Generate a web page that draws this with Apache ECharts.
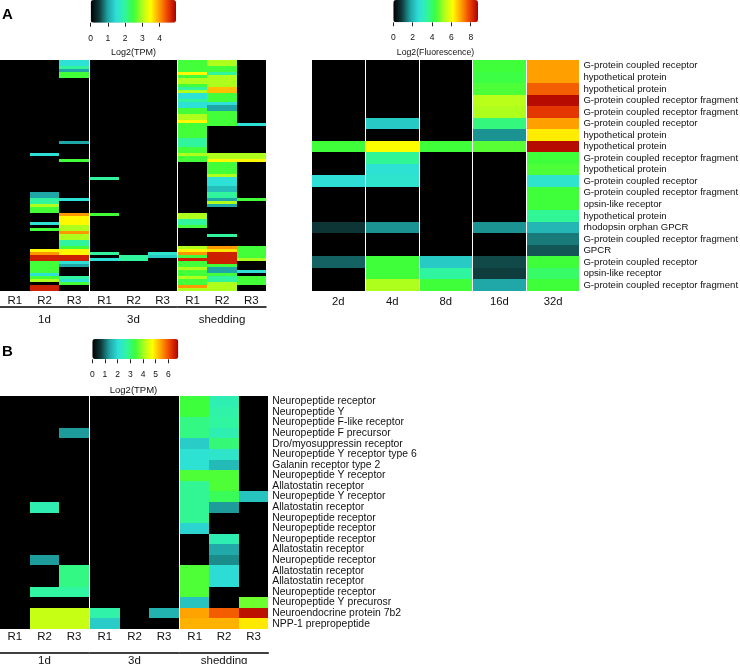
<!DOCTYPE html>
<html><head><meta charset="utf-8">
<script src="https://cdn.jsdelivr.net/npm/echarts@6/dist/echarts.min.js"></script>
<style>html,body{margin:0;padding:0;background:#fff}#c{width:740px;height:664px}</style>
</head><body><div id="c"></div>
<script>
const FONT = '"Liberation Sans", Arial, Helvetica, sans-serif';
const CMAP = ['#000000','#0f3a3a','#1fa5a5','#2ee0d8','#30f5a0','#3cff3c','#aaff1e','#ffff00','#ffa000','#ee4000','#aa0000'];

// ---------- Panel A (left): Log2(TPM) ----------
const repLabels = ['R1','R2','R3'];
const groupLabels = ['1d','3d','shedding'];
const aL_1d_R1 = [0,0,0,0,0,0,0,0,0,0, 0,0,0,0,0,0,0,0,0,0, 0,0,0,0,0,0,0,0,0,0, 0,0,0,0,0,0,0,0,0,0, 0,0,0,0,0,0,0,0,0,0, 0,0,0,0,0,0,0,0,0,0, 0,0,0,0,0,0,0,0,0,0, 0,0,0,0,0,0,0];
const aL_1d_R2 = [0,0,0,0,0,0,0,0,0,0, 0,0,0,0,0,0,0,0,0,0, 0,0,0,0,0,0,0,0,0,0, 0,1.5,0,0,0,0,0,0,0,0, 0,0,0,0,1,1,2,2,3,2.5, 2.5,0,0,0,1.5,0,2.5,0,0,0, 0,0,0,3.5,4,4.7,4.7,2.5,2.5,2.5, 2.5,1.5,2.5,3,0,4.7,4.7];
const aL_1d_R3 = [1.5,1.5,2,1,2.5,2.5,0,0,0,0, 0,0,0,0,0,0,0,0,0,0, 0,0,0,0,0,0,0,1,0,0, 0,0,0,2.5,0,0,0,0,0,0, 0,0,0,0,0,0,1.5,0,0,0, 0,4,3.5,3.5,3.5,3,3,4,3,3, 2,2,2.5,3.5,3.5,4.7,4.7,1.5,1,0, 0,0,2,1.5,2.5,0,0];
const aL_3d_R1 = [0,0,0,0,0,0,0,0,0,0, 0,0,0,0,0,0,0,0,0,0, 0,0,0,0,0,0,0,0,0,0, 0,0,0,0,0,0,0,0,0,2, 0,0,0,0,0,0,0,0,0,0, 0,2.5,0,0,0,0,0,0,0,0, 0,0,0,0,2,0,1.5,0,0,0, 0,0,0,0,0,0,0];
const aL_3d_R2 = [0,0,0,0,0,0,0,0,0,0, 0,0,0,0,0,0,0,0,0,0, 0,0,0,0,0,0,0,0,0,0, 0,0,0,0,0,0,0,0,0,0, 0,0,0,0,0,0,0,0,0,0, 0,0,0,0,0,0,0,0,0,0, 0,0,0,0,0,2,2,0,0,0, 0,0,0,0,0,0,0];
const aL_3d_R3 = [0,0,0,0,0,0,0,0,0,0, 0,0,0,0,0,0,0,0,0,0, 0,0,0,0,0,0,0,0,0,0, 0,0,0,0,0,0,0,0,0,0, 0,0,0,0,0,0,0,0,0,0, 0,0,0,0,0,0,0,0,0,0, 0,0,0,0,1.6,1.3,0,0,0,0, 0,0,0,0,0,0,0];
const aL_sh_R1 = [2.5,2.5,2.5,2.5,3.5,2.5,3,3,2.5,2, 3,1.5,1.5,2,1.5,1.5,2.5,2.5,3,3, 3.5,2.5,2.5,2.5,2.5,2.5,2,2,2,2.5, 2.5,3,2.5,2.5,0,0,0,0,0,0, 0,0,0,0,0,0,0,0,0,0, 0,3,3,2,2,2.5,0,0,0,0, 0,0,3,3.5,4,2.5,4.7,2.5,2.5,3, 2.5,2.5,3,2.5,2.5,4,3];
const aL_sh_R2 = [3,3,2.5,2.5,2,3,3,3,3,3.8, 3.8,2.5,2.5,2.5,1.5,1,1,2.5,2.5,2.5, 2.5,2.5,0,0,0,0,0,0,0,0, 0,3,3,3.5,2.5,2.5,2.5,2.5,3,1.5, 1.5,1.5,1.2,1.2,2,2,1,3,1,0, 0,0,0,0,0,0,0,0,2,0, 0,0,4,3.6,4.7,4.7,4.7,4.7,2.5,1, 1,2.5,2,2,3,3,3];
const aL_sh_R3 = [0,0,0,0,0,0,0,0,0,0, 0,0,0,0,0,0,0,0,0,0, 0,1.5,0,0,0,0,0,0,0,0, 0,3,3,3.5,0,0,0,0,0,0, 0,0,0,0,0,0,2.5,0,0,0, 0,0,0,0,0,0,0,0,0,0, 0,0,2.5,2.5,2.5,2.5,3,0,0,0, 1.5,0,2.5,2.5,2.5,0,0];
const aLeftMax = 4.95;
const aLeftTicks = [0,1,2,3,4];

// ---------- Panel A (right): Log2(Fluorescence) ----------
const aRightTimes = ['2d','4d','8d','16d','32d'];
const aRightGenes = ['G-protein coupled receptor','hypothetical protein','hypothetical protein','G-protein coupled receptor fragment','G-protein coupled receptor fragment','G-protein coupled receptor','hypothetical protein','hypothetical protein','G-protein coupled receptor fragment','hypothetical protein','G-protein coupled receptor','G-protein coupled receptor fragment','opsin-like receptor','hypothetical protein','rhodopsin orphan GPCR','G-protein coupled receptor fragment','GPCR','G-protein coupled receptor','opsin-like receptor','G-protein coupled receptor fragment'];
const aR_2d  = [0,0,0,0,0,0,0,4.4,0,0,2.6,0,0,0,0.8,0,0,1.2,0,0];
const aR_4d  = [0,0,0,0,0,2.3,0,6.1,3.6,2.7,2.8,0,0,0,1.6,0,0,4.4,4.4,5.3];
const aR_8d  = [0,0,0,0,0,0,0,4.4,0,0,0,0,0,0,0,0,0,2.3,3.5,4.4];
const aR_16d = [4.4,4.3,4.5,5.4,5.3,3.8,1.6,4.6,0,0,0,0,0,0,1.6,0,0,1.0,0.9,1.8];
const aR_32d = [7.0,7.0,7.6,8.6,8.0,7.0,6.3,8.6,4.4,4.5,2.8,4.4,4.4,3.6,2.0,1.4,1.1,4.4,4.0,4.4];
const aRightMax = 8.75;
const aRightTicks = [0,2,4,6,8];

// ---------- Panel B: Log2(TPM) ----------
const bGenes = ['Neuropeptide receptor','Neuropeptide Y','Neuropeptide F-like receptor','Neuropeptide F precursor','Dro/myosuppressin receptor','Neuropeptide Y receptor type 6','Galanin receptor type 2','Neuropeptide Y receptor','Allatostatin receptor','Neuropeptide Y receptor','Allatostatin receptor','Neuropeptide receptor','Neuropeptide receptor','Neuropeptide receptor','Allatostatin receptor','Neuropeptide receptor','Allatostatin receptor','Allatostatin receptor','Neuropeptide receptor','Neuropeptide Y precurosr','Neuroendocrine protein 7b2','NPP-1 prepropeptide'];
const b_1d_R1 = [0,0,0,0,0,0,0,0,0,0,0,0,0,0,0,0,0,0,0,0,0,0];
const b_1d_R2 = [0,0,0,0,0,0,0,0,0,0,2.5,0,0,0,0,1.3,0,0,2.7,0,4.3,4.3];
const b_1d_R3 = [0,0,0,1.3,0,0,0,0,0,0,0,0,0,0,0,0,2.9,2.9,2.7,0,4.3,4.3];
const b_3d_R1 = [0,0,0,0,0,0,0,0,0,0,0,0,0,0,0,0,0,0,0,0,2.6,1.8];
const b_3d_R2 = [0,0,0,0,0,0,0,0,0,0,0,0,0,0,0,0,0,0,0,0,0,0];
const b_3d_R3 = [0,0,0,0,0,0,0,0,0,0,0,0,0,0,0,0,0,0,0,0,1.5,0];
const b_sh_R1 = [3.4,3.4,2.9,2.9,1.8,2.1,2.1,3.5,2.8,2.8,2.8,2.8,1.9,0,0,0,3.5,3.5,3.5,1.7,5.4,5.3];
const b_sh_R2 = [2.5,2.6,2.7,2.5,3.0,2.2,1.6,3.5,3.5,3.2,1.3,0,0,2.5,1.4,1.2,2.0,2.0,0,0,5.9,5.3];
const b_sh_R3 = [0,0,0,0,0,0,0,0,0,1.7,0,0,0,0,0,0,0,0,0,3.7,6.6,4.9];
const bMax = 6.78;
const bTicks = [0,1,2,3,4,5,6];

// ---------- build ----------
const grids = [], xAxes = [], yAxes = [], series = [];
function renderCell(params, api) {
  const p = api.coord([api.value(0), api.value(1)]);
  const s = api.size([1, 1]);
  const x0 = Math.round(p[0] - s[0] / 2), x1 = Math.round(p[0] + s[0] / 2);
  const y0 = Math.round(p[1] - s[1] / 2), y1 = Math.round(p[1] + s[1] / 2);
  return {type: 'rect', shape: {x: x0, y: y0, width: x1 - x0, height: y1 - y0},
    style: {fill: api.visual('color')}};
}
function addHeat(box, xcats, rowcats, cols, o) {
  const gi = grids.length;
  grids.push({left: box.left, top: box.top, width: box.width, height: box.height, containLabel: false, outerBoundsMode: 'none'});
  const xi = xAxes.length;
  xAxes.push({type: 'category', gridIndex: gi, data: xcats, position: 'bottom',
    axisLine: {show: false}, axisTick: {show: false}, splitLine: {show: false},
    axisLabel: {fontFamily: FONT, fontSize: o.xSize, color: '#111', margin: o.xMargin, interval: 0}});
  if (o.group) {
    xAxes.push({type: 'category', gridIndex: gi, data: [o.group], position: 'bottom', offset: o.groupOffset,
      axisLine: {show: true, lineStyle: {color: '#000', width: 1.5}}, axisTick: {show: false}, splitLine: {show: false},
      axisLabel: {fontFamily: FONT, fontSize: o.xSize, color: '#111', margin: o.groupMargin}});
  }
  const yi = yAxes.length;
  yAxes.push({type: 'category', gridIndex: gi, data: rowcats, inverse: true, position: 'right',
    show: !!o.showY, axisLine: {show: false}, axisTick: {show: false}, splitLine: {show: false},
    axisLabel: {show: !!o.showY, fontFamily: FONT, fontSize: o.ySize || 10, color: '#111', margin: 4, interval: 0, align: 'left'}});
  const data = [];
  cols.forEach((col, c) => col.forEach((v, r) => data.push([c, r, v])));
  series.push({type: 'custom', xAxisIndex: xi, yAxisIndex: yi, data: data, encode: {x: 0, y: 1},
    renderItem: renderCell, silent: true, clip: false});
  return series.length - 1;
}
function addScale(box, max, ticks, size, margin) {
  const gi = grids.length;
  grids.push({left: box.left, top: box.top, width: box.width, height: 1, containLabel: false, outerBoundsMode: 'none'});
  xAxes.push({type: 'value', gridIndex: gi, min: 0, max: max,
    axisLine: {show: false}, splitLine: {show: false},
    axisTick: {show: true, length: 4, customValues: ticks, lineStyle: {color: '#222', width: 1}},
    axisLabel: {customValues: ticks, fontFamily: FONT, fontSize: size, color: '#111', margin: margin}});
  yAxes.push({type: 'value', gridIndex: gi, show: false});
}

const rowIdxA = aL_1d_R1.map((_, i) => String(i));
const aLeftCols = [[aL_1d_R1, aL_1d_R2, aL_1d_R3], [aL_3d_R1, aL_3d_R2, aL_3d_R3], [aL_sh_R1, aL_sh_R2, aL_sh_R3]];
const aLeftBoxes = [{left: 0, width: 89}, {left: 90, width: 87}, {left: 178, width: 88}];
const sA = [];
aLeftCols.forEach((cols, g) => {
  sA.push(addHeat({left: aLeftBoxes[g].left, width: aLeftBoxes[g].width, top: 60, height: 231}, repLabels, rowIdxA, cols,
    {xSize: 11.5, xMargin: 3.5, group: groupLabels[g], groupOffset: 15.7, groupMargin: 7}));
});

const aRightCols = [aR_2d, aR_4d, aR_8d, aR_16d, aR_32d];
const aRightLefts = [312, 366, 419.5, 473, 526.7];
const sR = [];
aRightCols.forEach((col, k) => {
  sR.push(addHeat({left: aRightLefts[k], width: 52.7, top: 60, height: 231}, [aRightTimes[k]], aRightGenes, [col],
    {xSize: 11.3, xMargin: 5, showY: k === 4, ySize: 9.6}));
});

const bCols = [[b_1d_R1, b_1d_R2, b_1d_R3], [b_3d_R1, b_3d_R2, b_3d_R3], [b_sh_R1, b_sh_R2, b_sh_R3]];
const bBoxes = [{left: 0, width: 89}, {left: 90, width: 89}, {left: 180, width: 88.3}];
const sB = [];
bCols.forEach((cols, g) => {
  sB.push(addHeat({left: bBoxes[g].left, width: bBoxes[g].width, top: 396, height: 233}, repLabels, bGenes, cols,
    {xSize: 11.5, xMargin: 1.5, group: groupLabels[g], groupOffset: 23.5, groupMargin: 2.5, showY: g === 2, ySize: 10.4}));
});

addScale({left: 90.7, top: 21.7, width: 85.3}, aLeftMax, aLeftTicks, 8.5, 11);
addScale({left: 393.3, top: 21.3, width: 84.7}, aRightMax, aRightTicks, 8.5, 11);
addScale({left: 92.3, top: 358.3, width: 86}, bMax, bTicks, 8.5, 11);

function vm(max, idx, left, top, len, thick) {
  return {type: 'continuous', min: 0, max: max, seriesIndex: idx, dimension: 2, inRange: {color: CMAP},
    orient: 'horizontal', left: left, top: top, itemWidth: thick, itemHeight: len, calculable: false,
    text: null, padding: 0, hoverLink: false, realtime: false};
}

const chart = echarts.init(document.getElementById('c'), null, {renderer: 'canvas'});
chart.setOption({
  animation: false,
  backgroundColor: '#fff',
  grid: grids, xAxis: xAxes, yAxis: yAxes, series: series,
  visualMap: [
    vm(aLeftMax, sA, 90.7, 0, 85.3, 22.7),
    vm(aRightMax, sR, 393.3, 0, 84.7, 22.3),
    vm(bMax, sB, 92.3, 339, 86, 20)
  ],
  graphic: [
    {type: 'text', x: 2, y: 15, style: {text: 'A', font: 'bold 15px ' + FONT, fill: '#000', verticalAlign: 'middle'}},
    {type: 'text', x: 2, y: 352, style: {text: 'B', font: 'bold 15px ' + FONT, fill: '#000', verticalAlign: 'middle'}},
    {type: 'text', x: 133.5, y: 53, style: {text: 'Log2(TPM)', font: '9px ' + FONT, fill: '#111', align: 'center', verticalAlign: 'middle'}},
    {type: 'text', x: 435.5, y: 53, style: {text: 'Log2(Fluorescence)', font: '8.7px ' + FONT, fill: '#111', align: 'center', verticalAlign: 'middle'}},
    {type: 'text', x: 133.5, y: 390, style: {text: 'Log2(TPM)', font: '9.5px ' + FONT, fill: '#111', align: 'center', verticalAlign: 'middle'}}
  ]
});
</script>
</body></html>
